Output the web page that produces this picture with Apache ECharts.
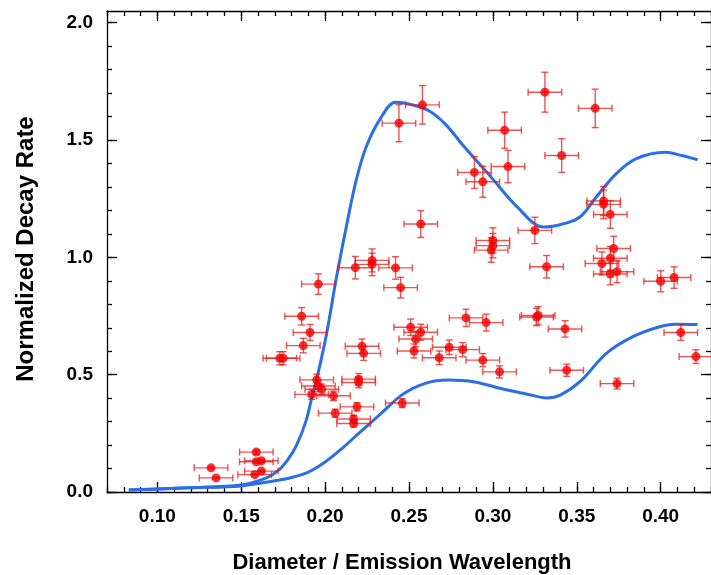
<!DOCTYPE html>
<html>
<head>
<meta charset="utf-8">
<script src="https://cdn.jsdelivr.net/npm/echarts@6/dist/echarts.min.js"></script>
<style>
html,body{margin:0;padding:0;background:#fff;}
#chart{width:711px;height:575px;}
</style>
</head>
<body>
<div id="chart"></div>
<script>
// ---- measured data points (Diameter / Emission Wavelength, Normalized Decay Rate)
const pointX = [0.132,0.135,0.159,0.159,0.162,0.162,0.158,
  0.196,0.186,0.191,0.187,0.173,0.175,0.195,0.196,0.198,0.192,0.205,
  0.218,0.228,0.228,0.242,0.245,0.222,0.223,0.220,0.220,0.246,0.219,0.206,0.217,0.217,
  0.251,0.257,0.254,0.253,
  0.300,0.300,0.299,0.325,0.332,0.372,0.370,0.365,0.370,0.374,0.400,0.408,
  0.284,0.296,0.274,0.282,0.268,0.294,0.304,0.326,0.327,0.343,0.344,0.374,0.412,0.421,
  0.244,0.258,0.331,0.361,0.307,0.341,0.309,0.289,0.294,0.257,0.366,0.366,0.370];
const pointY = [0.103,0.060,0.170,0.129,0.133,0.089,0.074,
  0.886,0.749,0.680,0.624,0.570,0.570,0.478,0.452,0.438,0.416,0.410,
  0.956,0.987,0.970,0.955,0.871,0.621,0.591,0.481,0.467,0.379,0.363,0.336,0.311,0.292,
  0.702,0.681,0.652,0.601,
  1.072,1.050,1.031,1.115,0.960,1.038,0.996,0.974,0.929,0.939,0.898,0.914,
  0.742,0.722,0.617,0.607,0.572,0.562,0.512,0.746,0.752,0.695,0.519,0.462,0.680,0.577,
  1.572,1.650,1.704,1.635,1.542,1.434,1.387,1.362,1.322,1.142,1.240,1.226,1.183];
const pointXErr = 0.01;
const pointYErr = [0.005,0.003,0.009,0.006,0.007,0.004,0.004,
  0.044,0.037,0.034,0.031,0.028,0.028,0.024,0.023,0.022,0.021,0.020,
  0.048,0.049,0.048,0.048,0.044,0.031,0.030,0.024,0.023,0.019,0.018,0.017,0.016,0.015,
  0.035,0.034,0.033,0.030,
  0.054,0.052,0.052,0.056,0.048,0.052,0.050,0.049,0.046,0.047,0.045,0.046,
  0.037,0.036,0.031,0.030,0.029,0.028,0.026,0.037,0.038,0.035,0.026,0.023,0.034,0.029,
  0.079,0.082,0.085,0.082,0.077,0.072,0.069,0.068,0.066,0.057,0.062,0.061,0.059];

// ---- model curves
const upperX = [0.083,0.1185,0.150,0.1650,0.1725,0.1780,0.1830,0.1885,0.1920,0.1956,0.2009,0.2068,0.2126,0.2185,0.2244,0.2322,0.2420,0.2498,0.2616,0.2715,0.2832,0.2989,0.3146,0.3303,0.3421,0.3519,0.3616,0.3734,0.3852,0.4028,0.4126,0.4220];
const upperY = [0.008,0.018,0.030,0.060,0.094,0.140,0.200,0.300,0.400,0.500,0.675,0.916,1.129,1.328,1.469,1.583,1.661,1.654,1.626,1.569,1.469,1.342,1.214,1.129,1.143,1.172,1.257,1.356,1.420,1.448,1.434,1.416];
const lowerX = [0.083,0.1185,0.150,0.1700,0.1800,0.1900,0.2000,0.2100,0.2200,0.2342,0.2460,0.2597,0.2734,0.2891,0.3048,0.3205,0.3322,0.3401,0.3519,0.3675,0.3832,0.3989,0.4087,0.4220];
const lowerY = [0.008,0.018,0.026,0.048,0.062,0.085,0.128,0.185,0.250,0.340,0.415,0.463,0.477,0.469,0.441,0.417,0.401,0.413,0.470,0.590,0.661,0.703,0.715,0.714];

// ---- axes
const xMajorTicks = [0.10,0.15,0.20,0.25,0.30,0.35,0.40];
const yMajorTicks = [0.0,0.5,1.0,1.5,2.0];
const xRange = [0.07, 0.43];
const yRange = [0, 2.05];

const xMinorTicks = [];
for (let i = 7; i <= 43; i++) xMinorTicks.push(i / 100);
const yMinorTicks = [];
for (let i = 0; i <= 20; i++) yMinorTicks.push(i / 10);

const FONT = "'Liberation Sans', Arial, Helvetica, sans-serif";
const lineStyleAxis = {color:'#000', width:1.3};

function mkX(pos, major, labels, showLine) {
  return {
    type:'value', position:pos, min:xRange[0], max:xRange[1],
    axisLine:{show:showLine, onZero:false, lineStyle:lineStyleAxis},
    axisTick:{show:true, inside:true, length: major?10:5, customValues: major?xMajorTicks:xMinorTicks, lineStyle:lineStyleAxis},
    axisLabel:{show:labels, customValues:xMajorTicks, formatter:v=>v.toFixed(2), margin:15,
      fontFamily:FONT, fontWeight:'bold', fontSize:19, color:'#000'},
    splitLine:{show:false}
  };
}
function mkY(pos, major, labels, showLine) {
  return {
    type:'value', position:pos, min:yRange[0], max:yRange[1],
    axisLine:{show:showLine, onZero:false, lineStyle:lineStyleAxis},
    axisTick:{show:true, inside:true, length: major?10:5, customValues: major?yMajorTicks:yMinorTicks, lineStyle:lineStyleAxis},
    axisLabel:{show:labels, customValues:yMajorTicks, formatter:v=>v.toFixed(1), margin:14,
      fontFamily:FONT, fontWeight:'bold', fontSize:19, color:'#000'},
    splitLine:{show:false}
  };
}

const errData = pointX.map((x,i)=>[x, pointY[i], pointXErr, pointYErr[i]]);
const scatterData = pointX.map((x,i)=>[x, pointY[i]]);
const upperData = upperX.map((x,i)=>[x, upperY[i]]);
const lowerData = lowerX.map((x,i)=>[x, lowerY[i]]);

const errColor = 'rgba(235,25,25,0.75)';
function renderErr(params, api) {
  const x = api.value(0), y = api.value(1), xe = api.value(2), ye = api.value(3);
  const l = api.coord([x-xe, y]), r = api.coord([x+xe, y]);
  const t = api.coord([x, y+ye]), b = api.coord([x, y-ye]);
  const cap = 3.5;
  const st = {stroke:errColor, lineWidth:1.4, fill:null};
  const mk = (x1,y1,x2,y2)=>({type:'line', shape:{x1,y1,x2,y2}, style:st});
  return {type:'group', children:[
    mk(l[0],l[1],r[0],r[1]),
    mk(l[0],l[1]-cap,l[0],l[1]+cap),
    mk(r[0],r[1]-cap,r[0],r[1]+cap),
    mk(t[0],t[1],b[0],b[1]),
    mk(t[0]-cap,t[1],t[0]+cap,t[1]),
    mk(b[0]-cap,b[1],b[0]+cap,b[1])
  ]};
}

const chart = echarts.init(document.getElementById('chart'), null, {renderer:'canvas'});
chart.setOption({
  animation:false,
  backgroundColor:'#fff',
  grid:{left:107, top:11, width:612, height:481, containLabel:false},
  xAxis:[mkX('bottom',true,true,true), mkX('bottom',false,false,false), mkX('top',true,false,true), mkX('top',false,false,false)],
  yAxis:[mkY('left',true,true,true), mkY('left',false,false,false), mkY('right',true,false,true), mkY('right',false,false,false)],
  graphic:[
    {type:'text', x:402, y:563, style:{text:'Diameter / Emission Wavelength', align:'center', verticalAlign:'middle',
      font:"bold 22px 'Liberation Sans', Arial, sans-serif", fill:'#000'}},
    {type:'text', x:26, y:249, rotation:Math.PI/2, style:{text:'Normalized Decay Rate', align:'center', verticalAlign:'middle',
      font:"bold 24px 'Liberation Sans', Arial, sans-serif", fill:'#000'}}
  ],
  series:[
    {type:'line', data:upperData, smooth:0.35, showSymbol:false, xAxisIndex:0, yAxisIndex:0,
      lineStyle:{color:'#2b6fe8', width:3}, z:3},
    {type:'line', data:lowerData, smooth:0.35, showSymbol:false, xAxisIndex:0, yAxisIndex:0,
      lineStyle:{color:'#2b6fe8', width:3}, z:3},
    {type:'custom', data:errData, renderItem:renderErr, xAxisIndex:0, yAxisIndex:0, encode:{x:0, y:1}, z:4},
    {type:'scatter', data:scatterData, symbol:'circle', symbolSize:9, xAxisIndex:0, yAxisIndex:0,
      itemStyle:{color:'#f20000'}, z:5}
  ]
});
</script>
</body>
</html>
